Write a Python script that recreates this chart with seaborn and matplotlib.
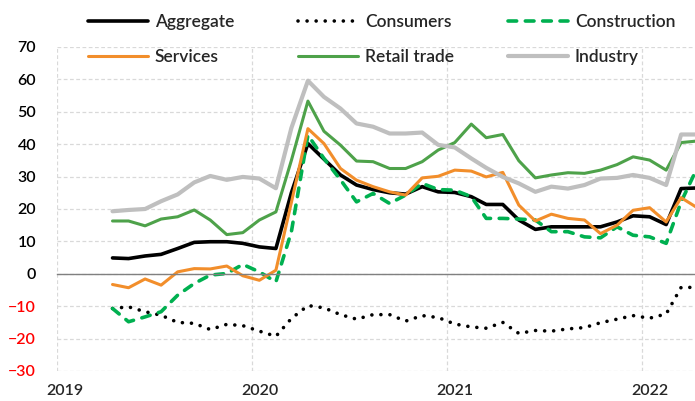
import pandas as pd
import matplotlib
matplotlib.use('Agg')
import matplotlib.pyplot as plt
import matplotlib.dates as mdates
import matplotlib.transforms as mtransforms
from matplotlib.lines import Line2D
import seaborn as sns

# monthly values, Apr 2019 - Apr 2022 (plotted mid-month)
months = pd.date_range('2019-04-01', '2022-04-01', freq='MS') + pd.Timedelta(days=14)

aggregate = [4.9, 4.7, 5.5, 6.0, 7.8, 9.7, 9.9, 9.9, 9.4, 8.3, 7.8,
             25.0, 40.2, 35.4, 30.5, 27.4, 26.0, 25.0, 24.6, 26.9, 25.3,
             25.1, 23.8, 21.4, 21.4, 16.6, 13.7, 14.5, 14.5, 14.5, 14.5,
             16.0, 17.9, 17.6, 15.2, 26.3, 26.5]
consumers = [-10.7, -10.2, -11.7, -12.8, -15.0, -15.3, -17.2, -15.6, -16.0, -17.7, -19.3,
             -13.8, -9.8, -10.5, -12.6, -14.0, -12.6, -12.6, -14.6, -12.9, -13.5,
             -15.5, -16.4, -16.8, -15.0, -18.4, -17.5, -17.7, -17.0, -16.6, -15.1,
             -14.0, -12.9, -13.7, -12.4, -4.2, -4.2]
construction = [-10.7, -14.8, -13.3, -11.7, -6.6, -3.0, -0.4, 0.1, 2.9, 0.6, -2.5,
                13.0, 42.8, 35.6, 29.0, 22.2, 24.8, 21.7, 24.3, 27.9, 26.0,
                25.8, 23.8, 17.1, 17.1, 16.9, 16.6, 13.0, 13.0, 11.4, 11.1,
                14.5, 11.9, 11.4, 9.4, 22.2, 33.0]
services = [-3.3, -4.3, -1.6, -3.5, 0.6, 1.6, 1.5, 2.4, -0.6, -2.0, 1.1,
            22.0, 44.8, 40.2, 32.5, 28.9, 26.9, 25.3, 24.3, 29.6, 30.1,
            32.0, 31.7, 29.9, 31.3, 21.2, 16.3, 18.4, 17.1, 16.6, 12.4,
            15.0, 19.6, 20.4, 16.0, 23.5, 20.3]
retail = [16.3, 16.3, 14.8, 16.9, 17.6, 19.7, 16.6, 12.1, 12.7, 16.6, 19.1,
          35.0, 53.3, 44.0, 39.7, 34.8, 34.6, 32.5, 32.5, 34.6, 38.2,
          40.5, 46.2, 42.0, 43.0, 34.9, 29.6, 30.5, 31.2, 31.0, 32.0,
          33.7, 36.1, 35.1, 32.0, 40.5, 41.0]
industry = [19.3, 19.7, 20.0, 22.4, 24.5, 28.2, 30.2, 29.0, 29.9, 29.4, 26.4,
            45.0, 59.6, 54.6, 51.0, 46.4, 45.4, 43.3, 43.3, 43.6, 39.8,
            39.0, 35.6, 32.7, 29.9, 27.9, 25.3, 26.9, 26.3, 27.4, 29.4,
            29.6, 30.5, 29.6, 27.4, 43.0, 43.0]

names = ['Aggregate', 'Consumers', 'Construction', 'Services', 'Retail trade', 'Industry']
values = [aggregate, consumers, construction, services, retail, industry]
styles = [
    dict(color='black', linewidth=2.6),
    dict(color='black', linewidth=2.6, linestyle=(0, (0.01, 2.5)), dash_capstyle='round'),
    dict(color='#00b050', linewidth=2.6, linestyle=(0, (2.4, 2.4)), dash_capstyle='round'),
    dict(color='#f28e2b', linewidth=2.2),
    dict(color='#4ea24a', linewidth=2.2),
    dict(color='#bfbfbf', linewidth=3.0),
]

sns.set_style('white')
plt.rcParams['font.family'] = ['Lato', 'DejaVu Sans']

fig = plt.figure(figsize=(6.95, 4.01), dpi=100)
ax = fig.add_axes([57 / 695, 30 / 401, 638 / 695, 324 / 401])

for name, vals, st in zip(names, values, styles):
    sns.lineplot(x=months, y=vals, ax=ax, **st)

ax.set_xlim(pd.Timestamp('2019-01-01'), pd.Timestamp('2022-04-10'))
ax.set_ylim(-30, 70)
ax.set_yticks(range(-30, 71, 10))
ax.set_ylabel('')
ax.set_xlabel('')

for s in ['top', 'right', 'left']:
    ax.spines[s].set_visible(False)
ax.spines['bottom'].set_position(('data', 0))
ax.spines['bottom'].set_color('#808080')
ax.spines['bottom'].set_linewidth(1.0)

ax.xaxis.set_major_locator(mdates.YearLocator())
ax.xaxis.set_minor_locator(mdates.MonthLocator())
ax.tick_params(axis='x', which='major', direction='inout', length=9, color='#808080', labelbottom=False)
ax.tick_params(axis='x', which='minor', direction='out', length=4, color='#808080')
ax.tick_params(axis='y', length=0, pad=15, labelsize=11.5)
ax.grid(True, which='major', color='#d9d9d9', linestyle=(0, (3, 2)), linewidth=0.9)

for lab, v in zip(ax.get_yticklabels(), range(-30, 71, 10)):
    lab.set_fontweight('semibold')
    lab.set_color('red' if v < 0 else 'black')

trans = mtransforms.blended_transform_factory(ax.transData, ax.transAxes)
for yr in [2019, 2020, 2021, 2022]:
    ax.text(pd.Timestamp(f'{yr}-01-16'), -0.062, str(yr), transform=trans,
            ha='center', va='center', fontsize=11.5, fontweight='semibold')

handles = [Line2D([], [], **st) for st in styles]
cols = [(0, 3), (1, 4), (2, 5)]
xs = [88, 298, 508]
for (i, j), x0 in zip(cols, xs):
    leg = fig.legend([handles[i], handles[j]], [names[i], names[j]],
                     loc='upper left', bbox_to_anchor=(x0 / 695, 1 - 14 / 401),
                     frameon=False, handlelength=3.45, handletextpad=0.4,
                     borderpad=0, borderaxespad=0, labelspacing=1.12,
                     prop=dict(size=12.5, weight='semibold'))

fig.savefig('out.png', dpi=100)
